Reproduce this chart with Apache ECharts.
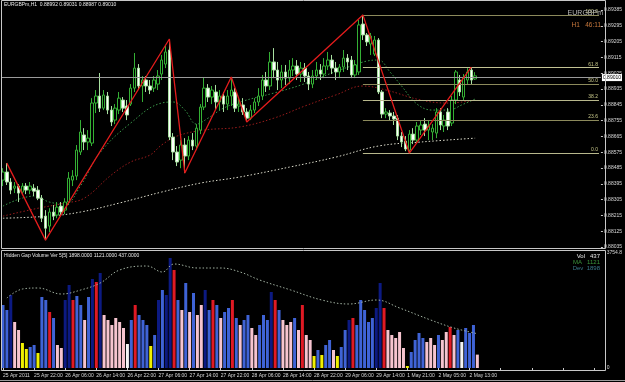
<!DOCTYPE html>
<html>
<head>
<meta charset="utf-8">
<script src="https://cdn.jsdelivr.net/npm/echarts@6/dist/echarts.min.js"></script>
<style>
  html, body { margin: 0; padding: 0; background: #000; }
  #chart { width: 625px; height: 382px; }
</style>
</head>
<body>
<div id="chart"></div>
<script>
// EURGBPm H1 candles, rows are [open, close, low, high]
const candles = [
  [0.88416,0.88462,0.88382,0.88484],[0.88462,0.88405,0.88388,0.88513],[0.88405,0.88359,0.88336,0.88427],
  [0.88370,0.88382,0.88342,0.88405],[0.88382,0.88342,0.88291,0.88393],[0.88348,0.88382,0.88331,0.88399],
  [0.88382,0.88359,0.88336,0.88399],[0.88359,0.88382,0.88336,0.88405],[0.88370,0.88353,0.88325,0.88393],
  [0.88359,0.88313,0.88302,0.88382],[0.88313,0.88199,0.88177,0.88331],[0.88211,0.88142,0.88074,0.88245],
  [0.88154,0.88234,0.88120,0.88256],[0.88234,0.88211,0.88188,0.88274],[0.88217,0.88262,0.88199,0.88291],
  [0.88268,0.88234,0.88211,0.88291],[0.88245,0.88291,0.88222,0.88313],[0.88291,0.88427,0.88274,0.88462],
  [0.88416,0.88439,0.88382,0.88473],[0.88439,0.88587,0.88416,0.88616],[0.88576,0.88690,0.88559,0.88758],
  [0.88673,0.88633,0.88587,0.88712],[0.88633,0.88655,0.88587,0.88701],[0.88627,0.88855,0.88610,0.88883],
  [0.88855,0.88895,0.88798,0.88929],[0.88895,0.88826,0.88804,0.89026],[0.88826,0.88901,0.88815,0.88929],
  [0.88895,0.88815,0.88792,0.88918],[0.88815,0.88747,0.88724,0.88838],[0.88758,0.88826,0.88735,0.88849],
  [0.88815,0.88883,0.88792,0.88918],[0.88872,0.88826,0.88804,0.88889],[0.88838,0.88787,0.88758,0.88872],
  [0.88849,0.88940,0.88838,0.88963],[0.88940,0.89054,0.88918,0.89140],[0.89054,0.88952,0.88929,0.89077],
  [0.88952,0.88986,0.88861,0.89009],[0.88986,0.88952,0.88918,0.89009],[0.88952,0.88929,0.88906,0.88986],
  [0.88940,0.88986,0.88918,0.89009],[0.88963,0.89009,0.88929,0.89043],[0.89020,0.89100,0.88986,0.89129],
  [0.89077,0.89146,0.89054,0.89180],[0.89157,0.88661,0.88644,0.89220],[0.88661,0.88576,0.88530,0.88684],
  [0.88576,0.88519,0.88496,0.88610],[0.88530,0.88616,0.88484,0.88644],[0.88616,0.88553,0.88456,0.88655],
  [0.88553,0.88644,0.88530,0.88667],[0.88644,0.88610,0.88587,0.88684],[0.88610,0.88712,0.88587,0.88735],
  [0.88701,0.88832,0.88678,0.88849],[0.88832,0.88940,0.88815,0.89003],[0.88940,0.88889,0.88861,0.88963],
  [0.88889,0.88929,0.88849,0.88952],[0.88918,0.88861,0.88815,0.88958],[0.88861,0.88895,0.88815,0.88929],
  [0.88895,0.88849,0.88804,0.88918],[0.88849,0.88895,0.88815,0.88929],[0.88895,0.88929,0.88838,0.89003],
  [0.88918,0.88826,0.88804,0.88940],[0.88838,0.88849,0.88804,0.88883],[0.88844,0.88804,0.88787,0.88883],
  [0.88804,0.88769,0.88747,0.88826],[0.88769,0.88815,0.88758,0.88844],[0.88815,0.88861,0.88798,0.88883],
  [0.88861,0.88895,0.88838,0.88940],[0.88895,0.88986,0.88872,0.89015],[0.88986,0.88952,0.88918,0.89032],
  [0.88952,0.89089,0.88929,0.89146],[0.89089,0.89043,0.88997,0.89168],[0.89043,0.88986,0.88929,0.89089],
  [0.88986,0.89032,0.88940,0.89072],[0.89032,0.88997,0.88958,0.89072],[0.88997,0.89043,0.88963,0.89100],
  [0.89043,0.89066,0.89009,0.89111],[0.89066,0.89020,0.88986,0.89100],[0.89020,0.89054,0.88975,0.89089],
  [0.89054,0.89009,0.88975,0.89083],[0.89009,0.88963,0.88929,0.89032],[0.88963,0.89009,0.88940,0.89043],
  [0.89009,0.89043,0.88986,0.89089],[0.89043,0.89020,0.88986,0.89077],[0.89020,0.89066,0.88997,0.89111],
  [0.89066,0.89100,0.89043,0.89146],[0.89100,0.89054,0.89020,0.89129],[0.89054,0.89032,0.88986,0.89089],
  [0.89032,0.89060,0.88997,0.89077],[0.89060,0.89111,0.89032,0.89157],[0.89111,0.89089,0.89043,0.89134],
  [0.89100,0.89015,0.88997,0.89123],[0.89015,0.89072,0.88997,0.89100],[0.89032,0.89300,0.89015,0.89328],
  [0.89305,0.89243,0.89214,0.89357],[0.89243,0.89203,0.89180,0.89254],[0.89191,0.89237,0.89129,0.89254],
  [0.89134,0.89214,0.89123,0.89237],[0.89214,0.88918,0.88906,0.89225],[0.88918,0.88792,0.88769,0.88929],
  [0.88792,0.88804,0.88769,0.88826],[0.88798,0.88781,0.88758,0.88815],[0.88781,0.88764,0.88730,0.88804],
  [0.88769,0.88667,0.88644,0.88787],[0.88667,0.88633,0.88604,0.88690],[0.88638,0.88593,0.88581,0.88667],
  [0.88587,0.88678,0.88570,0.88701],[0.88678,0.88644,0.88621,0.88712],[0.88644,0.88724,0.88627,0.88747],
  [0.88701,0.88730,0.88673,0.88758],[0.88735,0.88701,0.88667,0.88769],[0.88701,0.88724,0.88644,0.88758],
  [0.88690,0.88712,0.88644,0.88735],[0.88684,0.88804,0.88655,0.88826],[0.88804,0.88730,0.88701,0.88826],
  [0.88724,0.88758,0.88690,0.88787],[0.88804,0.88724,0.88701,0.88826],[0.88741,0.88872,0.88724,0.88895],
  [0.88872,0.89032,0.88849,0.89043],[0.88986,0.88918,0.88895,0.89015],[0.88889,0.88997,0.88872,0.89020],
  [0.88986,0.89032,0.88958,0.89054],[0.89043,0.88986,0.88963,0.89060],[0.88992,0.89010,0.88987,0.89031]
];

// moving averages, [bar, price]
const maFast = [[0,0.88268],[8,0.88325],[12,0.88291],[16,0.88279],[20,0.88382],[25,0.88570],[33,0.88741],
  [41,0.88855],[44,0.88861],[47,0.88815],[50,0.88735],[53,0.88769],[57,0.88826],[62,0.88866],[70,0.88912],
  [77,0.88958],[85,0.89026],[90,0.89066],[94,0.89094],[97,0.89100],[100,0.89032],[103,0.88952],[107,0.88849],
  [111,0.88815],[115,0.88815],[119,0.88849],[122,0.88878]];
const maMid = [[0,0.88211],[8,0.88251],[16,0.88285],[21,0.88313],[28,0.88445],[33,0.88519],[38,0.88559],
  [41,0.88616],[45,0.88667],[52,0.88701],[61,0.88718],[70,0.88769],[78,0.88838],[86,0.88901],[93,0.88952],
  [99,0.88929],[108,0.88872],[115,0.88855],[122,0.88872]];
const maSlow = [[0,0.88199],[12,0.88211],[20,0.88234],[30,0.88285],[41,0.88348],[51,0.88399],[61,0.88433],
  [74,0.88490],[86,0.88547],[97,0.88610],[108,0.88633],[122,0.88655]];

// zigzag turning points [bar, price]
const zigzag = [[1,0.88513],[11,0.88074],[43,0.89220],[47,0.88456],[59,0.89003],[63,0.88747],
  [93,0.89357],[105,0.88570],[121,0.89060]];

// fibonacci retracement
const fibStart = 93;
const fibHigh = 0.89357;
const fibLow = 0.88570;
const fibLevels = [100, 61.8, 50, 38.2, 23.6, 0];

// hidden gap volume
const volumes = [2057,1894,2383,1502,1241,816,620,686,751,490,2318,2220,1828,1633,751,653,2220,2710,2220,2351,
  2057,1567,2318,2906,2808,3102,1730,1567,1404,1633,1502,1306,784,1567,2057,1730,1567,1404,718,1077,
  2220,2547,2383,3592,3200,2220,1894,2775,1828,2449,1730,2057,2547,1894,2220,2057,1633,1828,1959,2220,
  1633,1404,1567,1730,1306,1077,1404,1730,1567,2481,2220,1894,1567,1404,1502,1633,1241,2057,1077,914,
  392,588,424,751,914,588,392,686,1241,1567,1633,1404,2220,1894,1502,1633,1959,2775,1959,1241,
  1077,980,1175,653,65,522,914,1143,980,849,980,751,1077,914,1175,1339,1077,1241,849,1306,
  1143,1404,437];
const volClass = ('BBNPPYYBBY' + 'BBRBPPNNRB' + 'BPBNRNPPPP' + 'PPWBRBBBYB' + 'NBNNRBPBPB' +
  'PPNBRBPBBR' + 'BPBBPPBBBN' + 'RBPPPBPRPP' + 'YBYBBPYBBN' + 'RBBBBBNNRP' + 'PPPPYBBBBP' +
  'PPBPPRPBWB' + 'BBP').split('');
const volMa = [[1,2286],[5,2579],[9,2612],[15,2416],[20,2547],[25,2775],[30,3200],[37,3330],[41,3134],
  [44,3396],[50,3265],[56,3265],[61,3134],[66,2873],[74,2547],[82,2220],[89,2090],[96,2220],[102,1959],
  [110,1567],[116,1306],[122,1121]];
const volDev = 1898;
const volMax = 3754.8;

// time axis labels, one every 8 bars
const timeLabels = ['25 Apr 2011','25 Apr 22:00','26 Apr 06:00','26 Apr 14:00','26 Apr 22:00','27 Apr 06:00',
  '27 Apr 14:00','27 Apr 22:00','28 Apr 06:00','28 Apr 14:00','28 Apr 22:00','29 Apr 06:00','29 Apr 14:00',
  '1 May 21:00','2 May 05:00','2 May 13:00'];

const priceMin = 0.88035;
const priceMax = 0.89385;
const priceStep = 0.0009;

// ---------------------------------------------------------------
const slots = 155; // bars + empty chart shift on the right
const cats = [];
for (let i = 0; i < slots; i++) {
  cats.push(i % 8 === 0 && timeLabels[i / 8] ? timeLabels[i / 8] : '');
}

const font = 'Liberation Sans';
const txt = '#d8d8d8';
const volColors = { B: '#3f63d6', N: '#0c1a82', R: '#e01a24', P: '#f6c4cf', Y: '#f0f000', W: '#f4f4f4' };
const fibColors = ['#8c8a5c', '#c2c294', '#8c8a5c', '#b8b88c', '#8c8a5c', '#b8b88c'];

const last = candles[candles.length - 1];
const lastClose = last[1];
const f5 = v => v.toFixed(5);

// fib lines + current price line
const marks = fibLevels.map((lv, k) => {
  const p = fibLow + (fibHigh - fibLow) * lv / 100;
  return [
    { coord: [fibStart, p], lineStyle: { color: fibColors[k], width: 1, type: 'solid' },
      label: { show: true, position: 'insideEndTop', formatter: lv.toFixed(1), color: '#c8c88a',
        fontSize: 5, fontFamily: font, distance: 1 } },
    { coord: [slots - 1, p] }
  ];
});
marks.push({
  yAxis: lastClose,
  lineStyle: { color: '#9a9a9a', width: 1, type: 'solid' },
  label: { show: true, position: 'end', formatter: f5(lastClose), color: '#000', backgroundColor: '#fff',
    fontSize: 5, fontFamily: font, padding: [1, 1], distance: 1 }
});

const maLine = (data, color) => ({
  type: 'line', xAxisIndex: 0, yAxisIndex: 0, data: data, symbol: 'none', smooth: 0.4,
  lineStyle: { color: color, width: 1, type: [1.5, 2] }, silent: true, z: 3
});

const chart = echarts.init(document.getElementById('chart'));
chart.setOption({
  backgroundColor: '#000',
  animation: false,
  grid: [
    { left: 1, right: 20, top: 10, height: 237 },
    { left: 1, right: 20, top: 253, height: 115 }
  ],
  xAxis: [
    { type: 'category', gridIndex: 0, data: cats, axisLine: { show: false }, axisTick: { show: false },
      axisLabel: { show: false }, splitLine: { show: false } },
    { type: 'category', gridIndex: 1, data: cats, axisLine: { show: false },
      axisTick: { show: true, interval: 7, alignWithLabel: true, length: 3, lineStyle: { color: '#c8c8c8' } },
      axisLabel: { interval: 7, align: 'left', fontSize: 5, fontFamily: font, color: txt, margin: 5 },
      splitLine: { show: false } }
  ],
  yAxis: [
    { type: 'value', gridIndex: 0, position: 'right', min: priceMin, max: priceMax, interval: priceStep,
      axisLine: { show: false }, axisTick: { show: true, length: 2, lineStyle: { color: '#c8c8c8' } },
      axisLabel: { fontSize: 5, fontFamily: font, color: txt, margin: 3, formatter: f5 },
      splitLine: { show: false } },
    { type: 'value', gridIndex: 1, position: 'right', min: 0, max: volMax, interval: volMax,
      axisLine: { show: false }, axisTick: { show: false },
      axisLabel: { fontSize: 5, fontFamily: font, color: txt, margin: 3,
        formatter: v => (v ? volMax.toFixed(1) : '0') },
      splitLine: { show: false } }
  ],
  series: [
    maLine(maSlow, '#dcdccc'),
    maLine(maMid, '#9a1c1c'),
    maLine(maFast, '#3a9a4a'),
    {
      type: 'candlestick', xAxisIndex: 0, yAxisIndex: 0, data: candles, barWidth: 3, z: 4,
      itemStyle: { color: '#000', color0: '#ffffff', borderColor: '#34b034', borderColor0: '#a8e0a0',
        borderWidth: 1 },
      markLine: { symbol: 'none', silent: true, animation: false, data: marks }
    },
    {
      type: 'line', xAxisIndex: 0, yAxisIndex: 0, data: zigzag, symbol: 'none', z: 6,
      lineStyle: { color: '#e41c1c', width: 1.3 }
    },
    {
      type: 'bar', xAxisIndex: 1, yAxisIndex: 1, barWidth: 3,
      data: volumes.map((v, i) => ({ value: v, itemStyle: { color: volColors[volClass[i]] } }))
    },
    {
      type: 'line', xAxisIndex: 1, yAxisIndex: 1, data: volMa, symbol: 'none', smooth: 0.4, z: 3,
      lineStyle: { color: '#a0b0a0', width: 1, type: [1.5, 2] }
    }
  ],
  graphic: [
    // panel frames
    { type: 'rect', shape: { x: 1.5, y: 0.5, width: 604, height: 248 },
      style: { fill: null, stroke: '#c8c8c8', lineWidth: 1 }, silent: true, z: 10 },
    { type: 'rect', shape: { x: 1.5, y: 250.5, width: 604, height: 120 },
      style: { fill: null, stroke: '#c8c8c8', lineWidth: 1 }, silent: true, z: 10 },
    { type: 'line', shape: { x1: 0, y1: 380.5, x2: 625, y2: 380.5 },
      style: { stroke: '#9a9a9a', lineWidth: 1 }, silent: true },
    // captions
    { type: 'text', x: 4, y: 5, z: 10, style: {
      text: 'EURGBPm,H1  ' + [last[0], last[3], last[2], last[1]].map(f5).join(' '),
      fill: '#e8e8e8', fontSize: 5, fontFamily: font, textVerticalAlign: 'middle' } },
    { type: 'text', x: 603, y: 13, z: 10, style: { text: 'EURGBPm', fill: '#b8b8b8', fontSize: 7,
      fontFamily: font, textAlign: 'right', textVerticalAlign: 'middle' } },
    { type: 'text', x: 601, y: 25, z: 10, style: { text: 'H1   46:11', fill: '#c8783c', fontSize: 6.5,
      fontFamily: font, textAlign: 'right', textVerticalAlign: 'middle' } },
    { type: 'text', x: 4, y: 256, z: 10, style: {
      text: 'Hidden Gap Volume Ver 5[5] ' + volDev.toFixed(4) + ' ' + volMa[volMa.length - 1][1].toFixed(4) +
        ' ' + volumes[volumes.length - 1].toFixed(4),
      fill: '#e8e8e8', fontSize: 5, fontFamily: font, textVerticalAlign: 'middle' } },
    { type: 'text', x: 600, y: 256, z: 10, style: { text: 'Vol   ' + volumes[volumes.length - 1],
      fill: '#e8e8e8', fontSize: 6, fontFamily: font, textAlign: 'right', textVerticalAlign: 'middle' } },
    { type: 'text', x: 600, y: 262, z: 10, style: { text: 'MA   ' + volMa[volMa.length - 1][1],
      fill: '#3c963c', fontSize: 6, fontFamily: font, textAlign: 'right', textVerticalAlign: 'middle' } },
    { type: 'text', x: 600, y: 268, z: 10, style: { text: 'Dev  ' + volDev,
      fill: '#3a7888', fontSize: 6, fontFamily: font, textAlign: 'right', textVerticalAlign: 'middle' } }
  ]
});
</script>
</body>
</html>
